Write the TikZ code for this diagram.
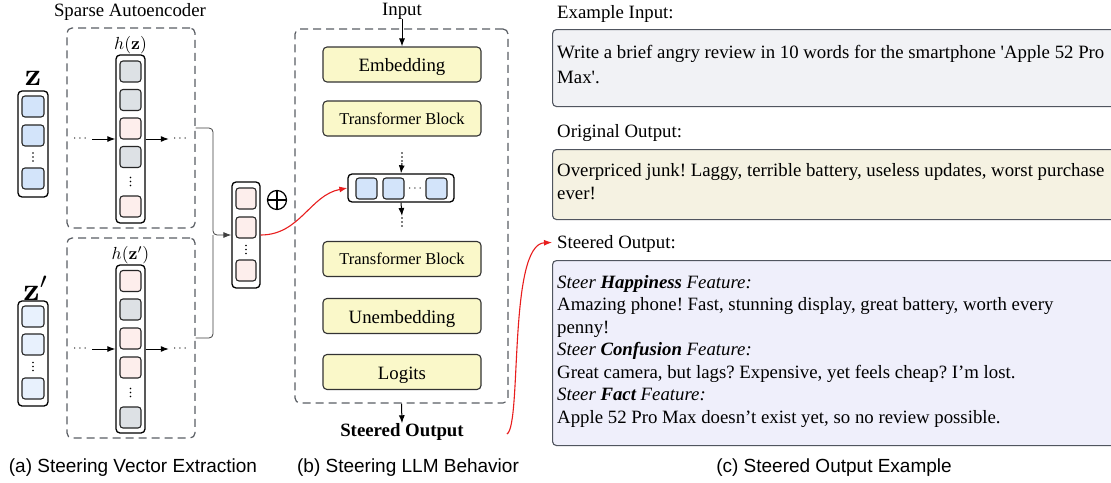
\documentclass[tikz,border=0pt]{standalone}
\usepackage[no-math]{fontspec}
\usepackage{graphicx}
\setmainfont{Liberation Serif}[Ligatures=TeXOff]
\setsansfont{Liberation Sans}
\usetikzlibrary{arrows.meta,calc}
\definecolor{cblue}{RGB}{211,228,250}
\definecolor{clblue}{RGB}{232,241,253}
\definecolor{cgray}{RGB}{221,225,229}
\definecolor{cpink}{RGB}{253,238,236}
\definecolor{yel}{RGB}{250,248,201}
\definecolor{dgray}{RGB}{90,94,100}
\definecolor{bgray}{RGB}{80,85,95}
\definecolor{f1}{RGB}{241,242,245}
\definecolor{f2}{RGB}{245,242,226}
\definecolor{f3}{RGB}{239,239,251}
\definecolor{rline}{RGB}{232,30,30}
\newcommand\myvd{\tikz[baseline=0pt]{\fill (0,0) circle (0.8pt) (0,4pt) circle (0.8pt) (0,8pt) circle (0.8pt);}}
\tikzset{
 cell/.style={draw=black!85, line width=1.1pt, rounded corners=3pt, minimum width=21pt, minimum height=21pt, inner sep=0pt},
 col/.style={draw=black, line width=1.3pt, rounded corners=4pt, fill=white, inner sep=0pt},
 dbox/.style={draw=dgray, line width=1.2pt, dash pattern=on 8pt off 5pt, rounded corners=5pt, inner sep=0pt},
 ybox/.style={draw=black!80, line width=1.1pt, fill=yel, rounded corners=4pt, minimum width=158pt, minimum height=35pt, inner sep=0pt, text height=16pt, text depth=2pt, font=\fontsize{18.8}{22.6}\selectfont},
 tblock/.style={ybox, text height=14pt, text depth=3pt, font=\fontsize{16.5}{20}\selectfont},
 tbox/.style={draw=bgray, line width=1.1pt, rounded corners=4pt, inner sep=0pt, anchor=north west, minimum width=570pt},
 arr/.style={-{Latex[length=8pt,width=6pt]}, line width=1pt},
 rarr/.style={-{Latex[length=8pt,width=6pt]}, draw=rline, line width=1.1pt},
 ser/.style={font=\fontsize{18.8}{22.6}\selectfont\frenchspacing, inner sep=0pt},
 captext/.style={font=\sffamily\fontsize{19}{22}\selectfont, inner sep=0pt},
 vd/.style={inner sep=0pt},
 hd/.style={font=\fontsize{12}{12}\selectfont, inner sep=1pt},
 bigz/.style={font=\fontsize{10}{10}\selectfont, inner sep=0pt},
 hlab/.style={font=\fontsize{10}{10}\selectfont, inner sep=0pt},
}
\begin{document}
\begin{tikzpicture}[x=1pt,y=-1pt]
\clip (0,0) rectangle (1111,482);
\fill[white] (0,0) rectangle (1111,482);

% ---------------- panel (a)
\node[ser] (saet) at (130,12) {Sparse Autoencoder};
\node[dbox, minimum width=128pt, minimum height=200pt] (sae1) at (131,128) {};
\node[dbox, minimum width=128pt, minimum height=200pt] (sae2) at (131,338) {};

% z vector
\node[bigz] (zl) at (33,78) {\scalebox{3.2}{$\mathbf{z}$}};
\node[col, minimum width=30pt, minimum height=106pt] (zc) at (33,144) {};
\node[cell, fill=cblue, minimum width=22pt] (z1) at (33,106.5) {};
\node[cell, fill=cblue, minimum width=22pt] (z2) at (33,135.5) {};
\node[vd] (z3) at (33,157) {\myvd};
\node[cell, fill=cblue, minimum width=22pt] (z4) at (33,178.5) {};

% h(z)
\node[hlab] (hl) at (130.5,45) {\scalebox{1.75}{$h(\mathbf{z})$}};
\node[col, minimum width=29pt, minimum height=168pt] (hc) at (130.5,139) {};
\node[cell, fill=cgray] (h1) at (130.5,71.5) {};
\node[cell, fill=cgray] (h2) at (130.5,100) {};
\node[cell, fill=cpink] (h3) at (130.5,128.5) {};
\node[cell, fill=cgray] (h4) at (130.5,157) {};
\node[vd] (h5) at (130.5,181.5) {\myvd};
\node[cell, fill=cpink] (h6) at (130.5,206.5) {};
\node[hd] (dl1) at (80,139) {$\cdots$};
\node[hd] (dr1) at (180,139) {$\cdots$};
\draw[arr] (dl1.east) ++(4,0) -- (hc.west);
\draw[arr] (hc.east) -- ([xshift=-3pt]dr1.west);

% z' vector
\node[bigz] (zpl) at (36,288) {\scalebox{3.2}{$\mathbf{z}'$}};
\node[col, minimum width=30pt, minimum height=105pt] (zpc) at (33,353.5) {};
\node[cell, fill=clblue, minimum width=22pt] (zp1) at (33,316.5) {};
\node[cell, fill=clblue, minimum width=22pt] (zp2) at (33,344.5) {};
\node[vd] (zp3) at (33,366.5) {\myvd};
\node[cell, fill=clblue, minimum width=22pt] (zp4) at (33,388.5) {};

% h(z')
\node[hlab] (hpl) at (130.5,255) {\scalebox{1.75}{$h(\mathbf{z}')$}};
\node[col, minimum width=29pt, minimum height=168pt] (hpc) at (130.5,349) {};
\node[cell, fill=cpink] (hp1) at (130.5,281) {};
\node[cell, fill=cgray] (hp2) at (130.5,309.5) {};
\node[cell, fill=cpink] (hp3) at (130.5,338.5) {};
\node[cell, fill=cpink] (hp4) at (130.5,367.5) {};
\node[vd] (hp5) at (130.5,392.5) {\myvd};
\node[cell, fill=cgray] (hp6) at (130.5,417.5) {};
\node[hd] (dl2) at (80,349) {$\cdots$};
\node[hd] (dr2) at (180,349) {$\cdots$};
\draw[arr] (dl2.east) ++(4,0) -- (hpc.west);
\draw[arr] (hpc.east) -- ([xshift=-3pt]dr2.west);

% steering vector
\node[col, minimum width=28pt, minimum height=106pt] (vc) at (246,235) {};
\node[cell, fill=cpink, minimum width=20pt] (v1) at (246,198.5) {};
\node[cell, fill=cpink, minimum width=20pt] (v2) at (246,227.5) {};
\node[vd] (v3) at (246,249.5) {\myvd};
\node[cell, fill=cpink, minimum width=20pt] (v4) at (246,270.5) {};
\node[circle, draw=black, line width=1.2pt, minimum size=19pt, inner sep=0pt] (op) at (277,200) {};
\draw[line width=1.2pt] (op.north) -- (op.south) (op.west) -- (op.east);

\coordinate (jn) at (213,235);
\draw[arr, draw=black!75, line width=0.8pt, rounded corners=4pt] (sae1.east) -| (jn) -- (vc.west);
\draw[draw=black!75, line width=0.8pt, rounded corners=4pt] (sae2.east) -| (jn);

% ---------------- panel (b)
\node[ser] (inp) at (402,11) {Input};
\node[dbox, minimum width=213pt, minimum height=374pt] (llm) at (401.5,216) {};
\node[ybox] (emb) at (402,64.5) {Embedding};
\node[tblock] (tb1) at (402,118.5) {Transformer Block};
\node[tblock] (tb2) at (402,259) {Transformer Block};
\node[ybox] (unemb) at (402,316) {Unembedding};
\node[ybox] (logit) at (402,372) {Logits};
\draw[arr] (inp.south) -- (emb.north);

\node[col, minimum width=106pt, minimum height=28pt] (sv) at (401,188) {};
\node[cell, fill=cblue] (s1) at (366.5,188.5) {};
\node[cell, fill=cblue] (s2) at (393.5,188.5) {};
\node[hd, inner sep=0pt] (s3) at (415,188.5) {$\cdots$};
\node[cell, fill=cblue] (s4) at (436.5,188.5) {};
\node[vd] (vu) at (402,157) {\myvd};
\node[vd] (vl) at (402,222) {\myvd};
\draw[arr] ([yshift=-1pt]vu.south) -- (sv.north);
\draw[arr] (sv.south) -- ([yshift=1pt]vl.north);

\node[ser, font=\fontsize{18.8}{22.6}\selectfont\bfseries] (sout) at (402,432) {Steered Output};
\draw[arr] (llm.south) -- (sout.north);

\draw[rarr] (vc.east) .. controls (300,235) and (310,195) .. (sv.west);

% ---------------- panel (c)
\node[ser, anchor=base west] (exl) at (557,18) {Example Input:};
\node[tbox, fill=f1, minimum height=77pt] (b1) at (552,29) {};
\node[ser, anchor=base west] (b1a) at (557,58) {Write a brief angry review in 10 words for the smartphone 'Apple 52 Pro};
\node[ser, anchor=base west] (b1b) at (557,83) {Max'.};

\node[ser, anchor=base west] (orl) at (557,137) {Original Output:};
\node[tbox, fill=f2, minimum height=70pt] (b2) at (552,149) {};
\node[ser, anchor=base west] (b2a) at (557,176.5) {Overpriced junk! Laggy, terrible battery, useless updates, worst purchase};
\node[ser, anchor=base west] (b2b) at (557,199.5) {ever!};

\node[ser, anchor=base west] (stl) at (557,248) {Steered Output:};
\node[tbox, fill=f3, minimum height=185pt] (b3) at (552,260) {};
\node[ser, anchor=base west] (l1) at (557,288) {\itshape Steer \textbf{Happiness} Feature:};
\node[ser, anchor=base west] (l2) at (557,310.5) {Amazing phone! Fast, stunning display, great battery, worth every};
\node[ser, anchor=base west] (l3) at (557,333) {penny!};
\node[ser, anchor=base west] (l4) at (557,355.5) {\itshape Steer \textbf{Confusion} Feature:};
\node[ser, anchor=base west] (l5) at (557,378) {Great camera, but lags? Expensive, yet feels cheap? I’m lost.};
\node[ser, anchor=base west] (l6) at (557,400.5) {\itshape Steer \textbf{Fact} Feature:};
\node[ser, anchor=base west] (l7) at (557,423) {Apple 52 Pro Max doesn’t exist yet, so no review possible.};

\coordinate (rs) at (507,434);
\draw[rarr] (rs) .. controls (522,425) and (508,244) .. ($(stl.west)+(-5,-1)$);

% captions
\node[captext] (capa) at (133,468) {(a) Steering Vector Extraction};
\node[captext] (capb) at (408,468) {(b) Steering LLM Behavior};
\node[captext] (capc) at (834,468) {(c) Steered Output Example};
\end{tikzpicture}
\end{document}
